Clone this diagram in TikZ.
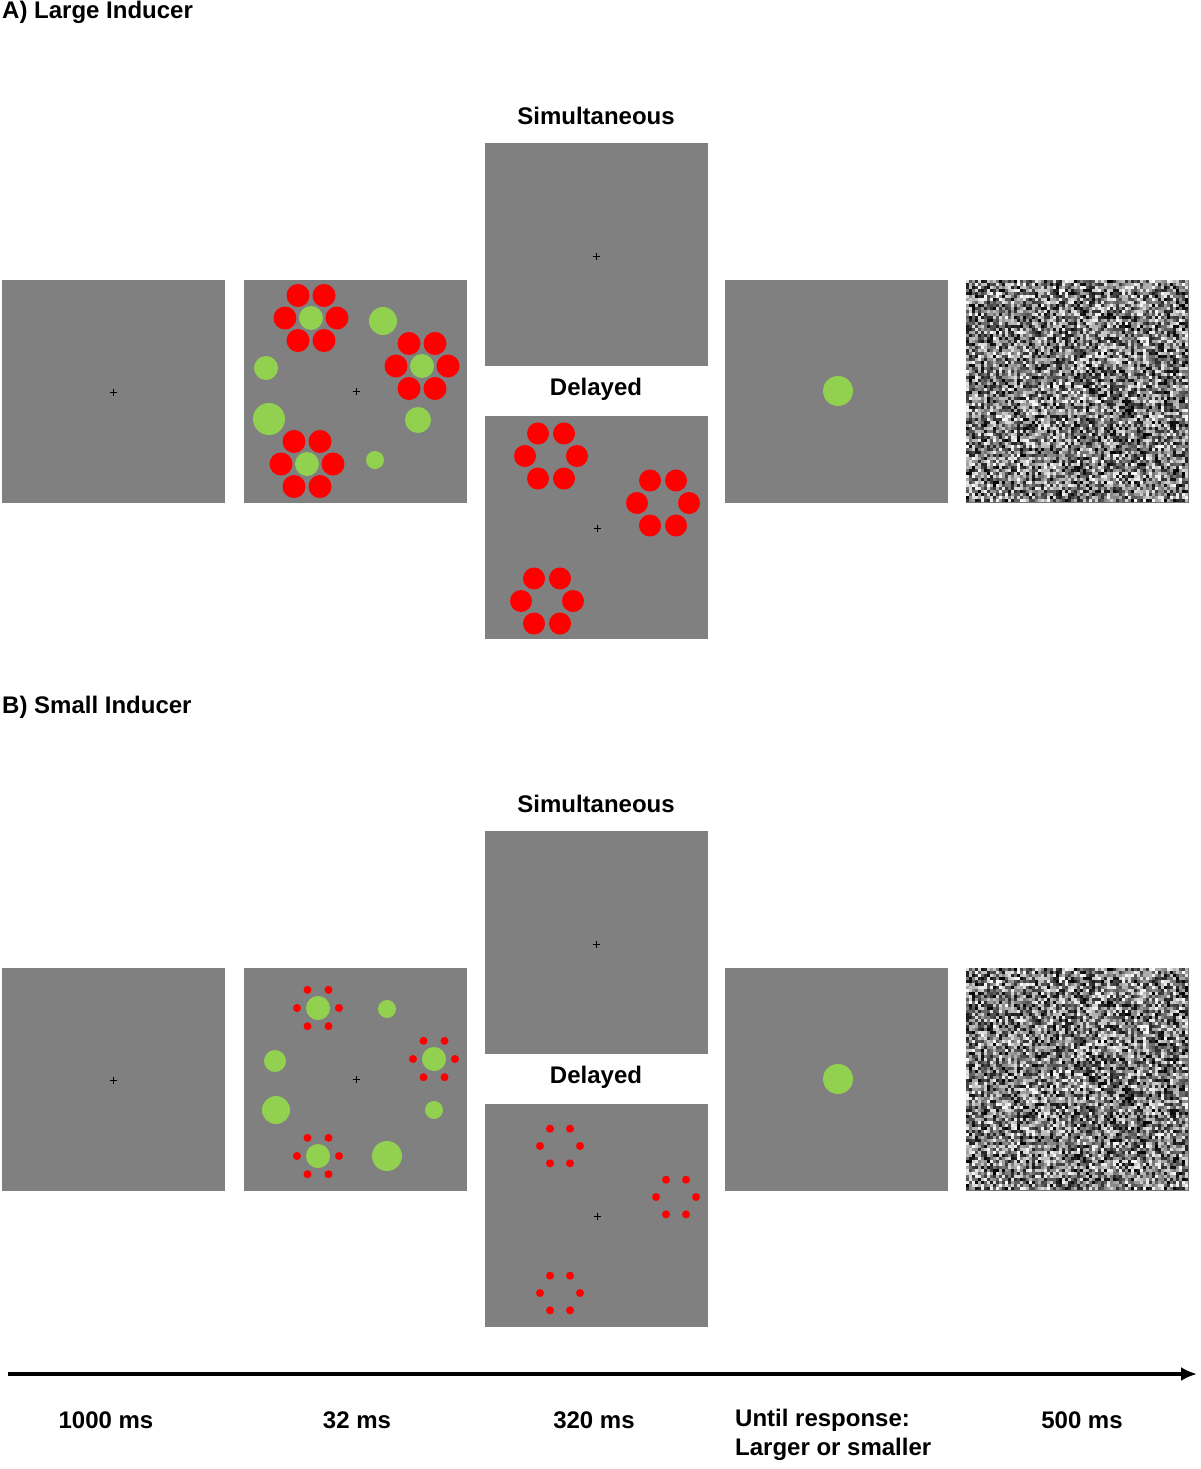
\documentclass[tikz,border=0pt]{standalone}
\usepackage{fontspec}
\setmainfont{Liberation Sans}
\usetikzlibrary{arrows.meta}
\definecolor{pg}{RGB}{128,128,128}
\definecolor{gr}{RGB}{146,208,80}
\definecolor{rd}{RGB}{255,0,0}
\newcommand{\myflower}[4]{\foreach \a in {0,60,...,300}{\fill[rd] (#1,#2) ++(\a:#3) circle (#4);}}
\newcommand{\mygreen}[3]{\fill[gr] (#1,#2) circle (#3);}
\newcommand{\mycross}[2]{\draw[black,line width=1pt] (#1-3.5,#2) -- (#1+3.5,#2) (#1,#2-3.5) -- (#1,#2+3.5);}
\newcommand{\mypanel}[3]{\fill[pg] (#1,#2) rectangle ++(223,223);\node[coordinate] (#3) at (#1+111.5,#2+111.5) {};}
\newcommand{\mynoise}[2]{\fill[black!55] (#1,#2) rectangle ++(223,223);
\pgfmathsetseed{7}
\foreach \i in {0,...,73}{\foreach \j in {0,...,73}{\pgfmathsetmacro{\g}{int(100*rnd)}\fill[white!\g!black] (#1+\i*3,#2+\j*3) rectangle ++(3.1,3.1);}}}
\begin{document}
\begin{tikzpicture}[x=1pt,y=-1pt,font=\bfseries\fontsize{24}{29}\selectfont,
lbl/.style={inner sep=0pt}]
\useasboundingbox (0,0) rectangle (1200,1469);
\node[lbl,anchor=west] (ta) at (2,12) {A) Large Inducer};
\node[lbl,anchor=west] (tb) at (2,707) {B) Small Inducer};
\foreach \o/\r in {0/a,688/b}{
 \mypanel{2}{280+\o}{p1\r}
 \mypanel{244}{280+\o}{p2\r}
 \mypanel{485}{143+\o}{ps\r}
 \mypanel{485}{416+\o}{pd\r}
 \mypanel{725}{280+\o}{p4\r}
 \mynoise{966}{280+\o}
 \node[coordinate] (p5\r) at (1077,391+\o) {};
 \mycross{113}{392+\o}
 \mycross{356}{391+\o}
 \mycross{596}{256+\o}
 \mycross{597}{528+\o}
 \mygreen{838}{391+\o}{15}
 \node[lbl] (sim\r) at (596,116+\o) {Simultaneous};
 \node[lbl] (del\r) at (596,389+\o) {Delayed};
}
% A stimuli
\myflower{311}{318}{26}{11.5}\mygreen{311}{318}{12}
\myflower{422}{366}{26}{11.5}\mygreen{422}{366}{12}
\myflower{307}{464}{26}{11.5}\mygreen{307}{464}{12}
\mygreen{383}{321}{14}\mygreen{266}{368}{12}\mygreen{269}{419}{16}\mygreen{418}{420}{13}\mygreen{375}{460}{9}
\myflower{551}{456}{26}{11}
\myflower{663}{503}{26}{11}
\myflower{547}{601}{26}{11}
% B stimuli
\myflower{318}{1008}{21}{4}\mygreen{318}{1008}{12}
\myflower{434}{1059}{21}{4}\mygreen{434}{1059}{12}
\myflower{318}{1156}{21}{4}\mygreen{318}{1156}{12}
\mygreen{387}{1009}{9}\mygreen{275}{1061}{11}\mygreen{276}{1110}{14}\mygreen{434}{1110}{9}\mygreen{387}{1156}{15}
\myflower{560}{1146}{20}{4}
\myflower{676}{1197}{20}{4}
\myflower{560}{1293}{20}{4}
% time arrow
\coordinate (s) at (8,1374);
\coordinate (e) at (1197,1374);
\draw[line width=3.5pt,-{Latex[length=16pt,width=14pt]}] (s) -- (e);
\node[lbl] (t1) at (106,1420) {1000 ms};
\node[lbl] (t2) at (357,1420) {32 ms};
\node[lbl] (t3) at (594,1420) {320 ms};
\node[lbl,anchor=west,align=left] (t4) at (735,1435) {Until response:\\Larger or smaller};
\node[lbl] (t5) at (1082,1420) {500 ms};
\end{tikzpicture}
\end{document}
